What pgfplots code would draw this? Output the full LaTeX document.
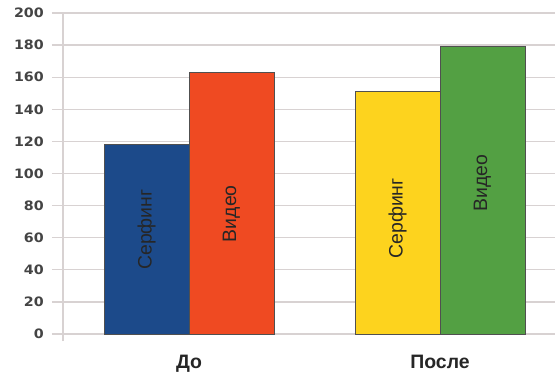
\documentclass[border=0pt]{standalone}
\usepackage{pgfplots}
\pgfplotsset{compat=1.18}
\usepackage{fontspec}
\setmainfont{Liberation Sans}
\newfontfamily\tickfont[FakeStretch=1.1]{DejaVu Sans}
\definecolor{cblue}{HTML}{1C4A8A}
\definecolor{corange}{HTML}{EF4A22}
\definecolor{cyellow}{HTML}{FDD31E}
\definecolor{cgreen}{HTML}{53A043}
\definecolor{bordc}{HTML}{505050}
\definecolor{gridc}{HTML}{D8D2D2}
\definecolor{tickc}{HTML}{444444}
\begin{document}
\begin{tikzpicture}
\begin{axis}[
  scale only axis, width=492bp, height=321bp,
  xmin=-0.502, xmax=1.458, ymin=0, ymax=200,
  ytick={0,20,...,200},
  xtick={0,1}, xticklabels={До,После},
  ybar, bar width=85bp,
  axis lines*=left,
  x axis line style={draw=none},
  y axis line style={draw=gridc, line width=1.2bp, shorten <=-7bp},
  tick align=outside,
  major tick length=11bp,
  ytick style={draw=gridc, line width=1.2bp},
  major x tick style={draw=none},
  ymajorgrids, grid style={draw=gridc, line width=1.2bp},
  yticklabel style={font=\tickfont\bfseries\fontsize{13}{13}\selectfont, text=tickc, anchor=east, inner sep=0pt, xshift=-8bp},
  xticklabel style={font=\bfseries\fontsize{19.5}{19.5}\selectfont, text=black!85, anchor=base, inner sep=0pt, yshift=-23bp},
  /pgf/number format/assume math mode=true,
  clip=false,
]
\addplot[fill=cblue, draw=bordc, line width=1bp, bar shift=-42.5bp] coordinates {(0,118)};
\addplot[fill=corange, draw=bordc, line width=1bp, bar shift=42.5bp] coordinates {(0,163)};
\addplot[fill=cyellow, draw=bordc, line width=1bp, bar shift=-42.5bp] coordinates {(1,151)};
\addplot[fill=cgreen, draw=bordc, line width=1bp, bar shift=42.5bp] coordinates {(1,179)};
\node[rotate=90, font=\fontsize{19.5}{19.5}\selectfont, text=black!85] at (axis cs:-0.169,65) {Серфинг};
\node[rotate=90, font=\fontsize{19.5}{19.5}\selectfont, text=black!85] at (axis cs:0.169,75) {Видео};
\node[rotate=90, font=\fontsize{19.5}{19.5}\selectfont, text=black!85] at (axis cs:0.831,72) {Серфинг};
\node[rotate=90, font=\fontsize{19.5}{19.5}\selectfont, text=black!85] at (axis cs:1.169,94) {Видео};
\end{axis}
\pgfresetboundingbox
\path (current axis.south west) ++(-63bp,-40bp) rectangle ++(555bp,374bp);
\end{tikzpicture}
\end{document}
